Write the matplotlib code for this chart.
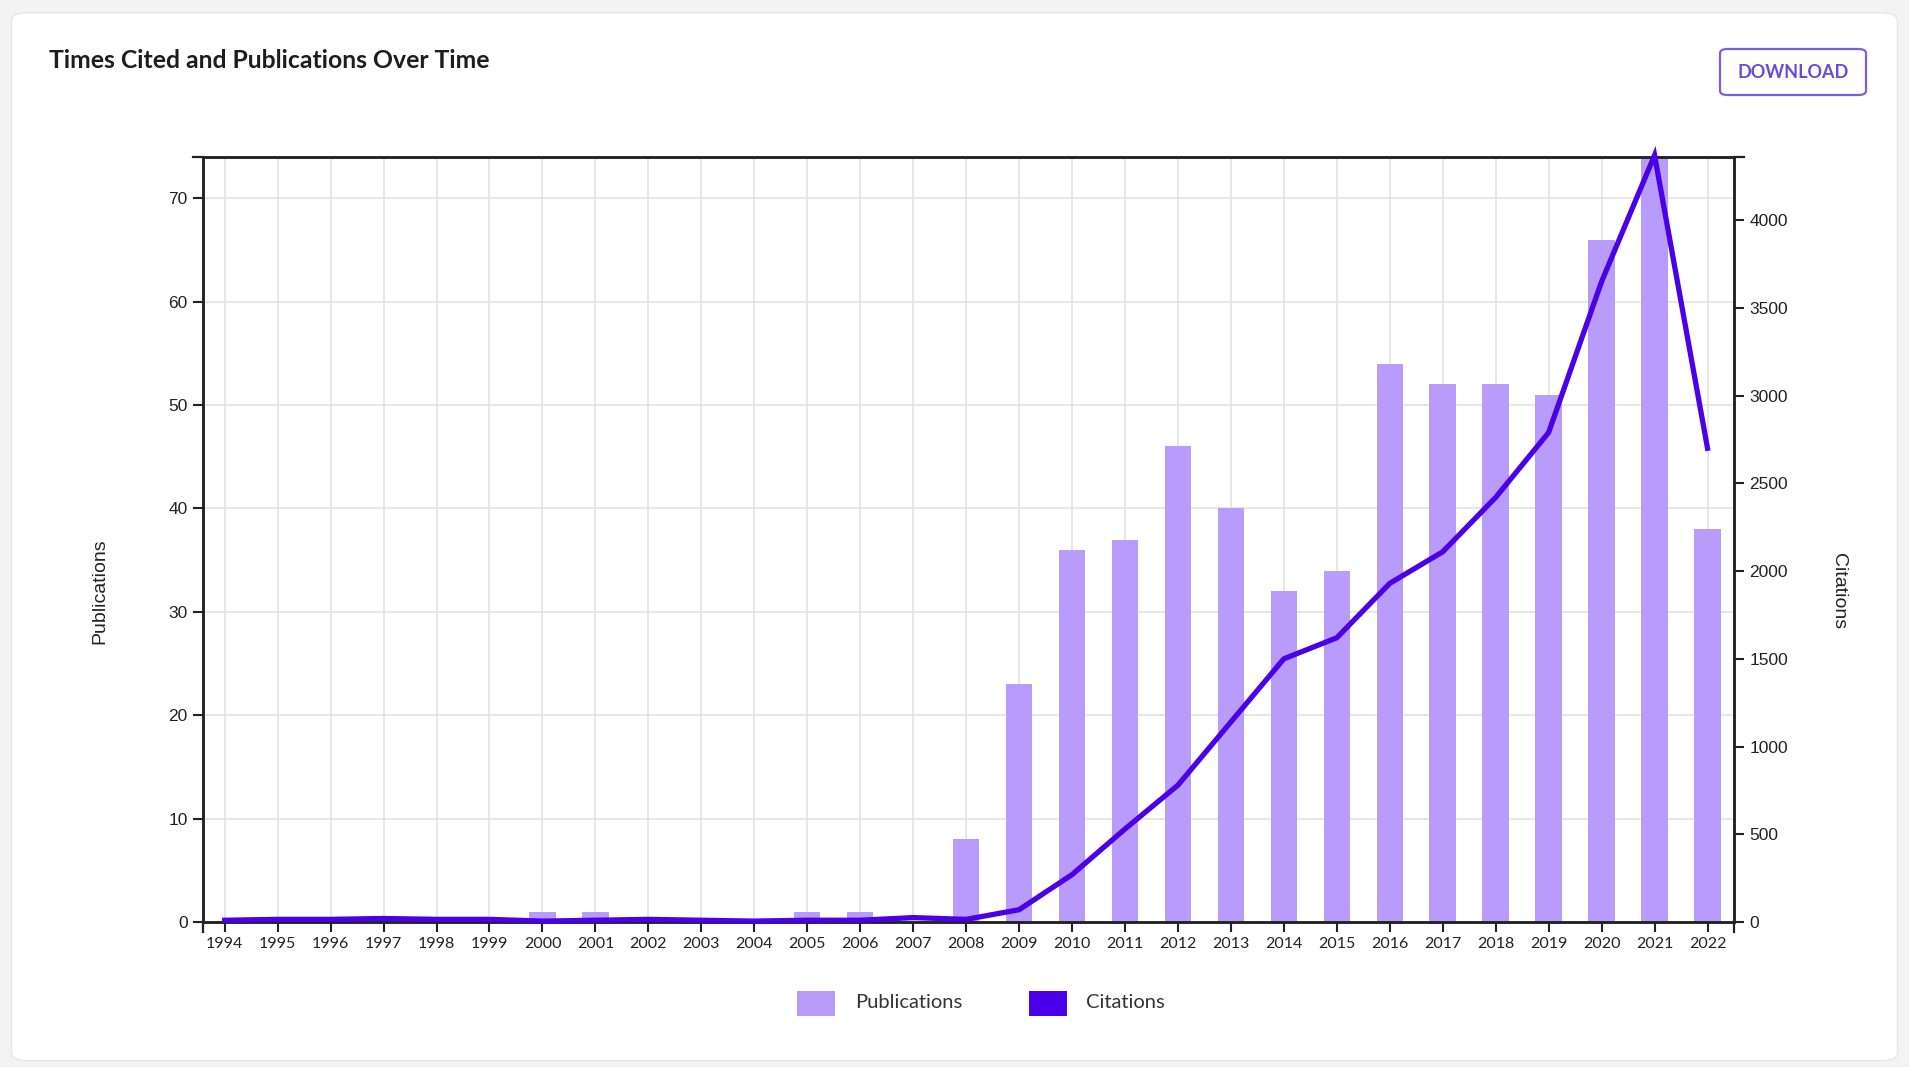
import numpy as np
import matplotlib
matplotlib.use('Agg')
import matplotlib.pyplot as plt
from matplotlib.patches import FancyBboxPatch, Rectangle
from matplotlib.lines import Line2D

# ---- DATA ----
years = list(range(1994, 2023))
publications = [0, 0, 0, 0, 0, 0, 1, 1, 0, 0, 0, 1, 1, 0,
                8, 23, 36, 37, 46, 40, 32, 34, 54, 52, 52, 51, 66, 74, 38]
citations = [10, 15, 15, 20, 15, 15, 5, 10, 15, 10, 5, 10, 10, 25,
             15, 70, 270, 530, 780, 1140, 1500, 1620, 1930, 2110, 2420, 2790, 3650, 4370, 2700]

pub_ticks = [0, 10, 20, 30, 40, 50, 60, 70]
cit_ticks = [0, 500, 1000, 1500, 2000, 2500, 3000, 3500, 4000]

BAR_COLOR = '#b99bfb'
LINE_COLOR = '#4a00e8'
AXIS_COLOR = '#222222'
GRID_COLOR = '#e3e3e3'

TICK_FONT = 'Liberation Sans'
UI_FONT = 'Lato'

W, H = 1909, 1067

# ---- FIGURE ----
fig = plt.figure(figsize=(W / 100, H / 100), dpi=100)
fig.patch.set_facecolor('#f3f3f3')

# white card (behind the axes)
card = FancyBboxPatch((0.006, 0.006), 0.988, 0.988 - 0.006,
                      boxstyle='round,pad=0,rounding_size=0.008',
                      transform=fig.transFigure, facecolor='white',
                      edgecolor='#e6e6e6', linewidth=1, zorder=-5)
fig.patches.append(card)

fig.text(49 / W, 1 - 61 / H, 'Times Cited and Publications Over Time',
         fontsize=17.8, fontweight='bold', family=UI_FONT, color='#1d1d1d',
         ha='left', va='center')

# download button
btn = FancyBboxPatch((1720 / W, 1 - 95 / H), 146 / W, 46 / H,
                     boxstyle='round,pad=0,rounding_size=0.004',
                     transform=fig.transFigure, facecolor='white',
                     edgecolor='#7d5ce0', linewidth=1.6)
fig.patches.append(btn)
fig.text(1793 / W, 1 - 72 / H, 'DOWNLOAD', fontsize=13, fontweight='bold',
         family=UI_FONT, color='#6a4bd6', ha='center', va='center')

# ---- AXES ----
left, right, top, bottom = 203, 1734, 157, 922
ax = fig.add_axes([left / W, 1 - bottom / H, (right - left) / W, (bottom - top) / H])
ax2 = ax.twinx()
ax.set_facecolor('none')

x = np.arange(len(years))
ax.bar(x, publications, width=0.5, color=BAR_COLOR, zorder=2)
ax2.plot(x, citations, color=LINE_COLOR, linewidth=3.8, zorder=3,
         solid_joinstyle='miter', clip_on=False)

ax.set_xlim(-0.41, len(years) - 0.5)
ax.set_ylim(0, max(publications))
ax2.set_ylim(0, max(citations) - 10)

ax.set_xticks(x)
ax.set_xticklabels([str(y) for y in years], family=UI_FONT, fontsize=11.5, color='#222222')
ax.set_yticks(pub_ticks)
ax.set_yticklabels([str(t) for t in pub_ticks], family=TICK_FONT, fontsize=12.5, color='#222222')
ax2.set_yticks(cit_ticks)
ax2.set_yticklabels([str(t) for t in cit_ticks], family=TICK_FONT, fontsize=12.5, color='#222222')

ax.grid(True, color=GRID_COLOR, linewidth=1.2, zorder=0)
ax.set_axisbelow(True)

for a in (ax, ax2):
    for s in a.spines.values():
        s.set_color(AXIS_COLOR)
        s.set_linewidth(1.8)
    a.tick_params(length=7, width=1.5, color=AXIS_COLOR, pad=4)

# outer ticks at the ends of the axes
for (x0, y0, x1, y1) in [(left - 10, top, left, top), (right, top, right + 10, top),
                         (left, bottom, left, bottom + 10), (right, bottom, right, bottom + 10)]:
    fig.add_artist(Line2D([x0 / W, x1 / W], [1 - y0 / H, 1 - y1 / H],
                          transform=fig.transFigure, color=AXIS_COLOR, linewidth=1.6))

ax.set_ylabel('Publications', family=TICK_FONT, fontsize=14, color='#222222',
              va='center')
ax.yaxis.set_label_coords(-0.0673, 0.433)
ax2.set_ylabel('Citations', family=TICK_FONT, fontsize=14, color='#222222',
               rotation=-90, va='center')
ax2.yaxis.set_label_coords(1.068, 0.433)

# ---- LEGEND ----
sw_w, sw_h = 38 / W, 25 / H
ly = 1 - 1003 / H
fig.patches.append(Rectangle((797 / W, ly - sw_h / 2), sw_w, sw_h,
                             transform=fig.transFigure, facecolor=BAR_COLOR, edgecolor='none'))
fig.text(855 / W, ly, 'Publications', family=UI_FONT, fontsize=14.5,
         color='#333333', ha='left', va='center')
fig.patches.append(Rectangle((1029 / W, ly - sw_h / 2), sw_w, sw_h,
                             transform=fig.transFigure, facecolor=LINE_COLOR, edgecolor='none'))
fig.text(1086 / W, ly, 'Citations', family=UI_FONT, fontsize=14.5,
         color='#333333', ha='left', va='center')

fig.savefig('out.png', dpi=100, facecolor=fig.get_facecolor())
